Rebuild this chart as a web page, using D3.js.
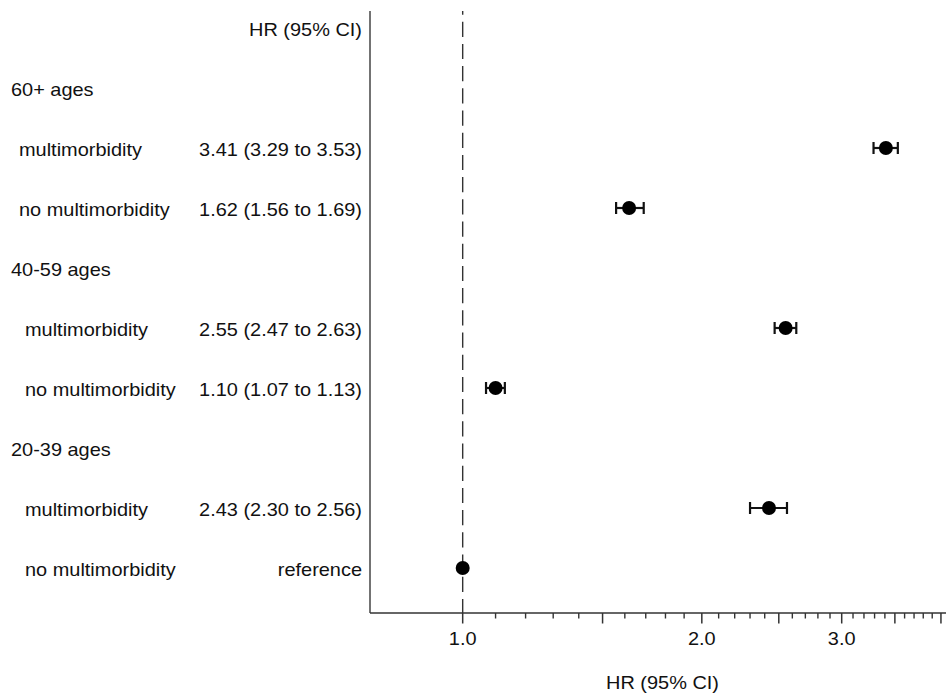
<!DOCTYPE html>
<html>
<head>
<meta charset="utf-8">
<script src="https://cdn.jsdelivr.net/npm/d3@7"></script>
<style>
  html, body { margin: 0; padding: 0; background: #fff; }
  svg { display: block; }
  text { font-family: "Liberation Sans", Arial, Helvetica, sans-serif; font-size: 17.5px; fill: #111; }
</style>
</head>
<body>
<svg id="chart" width="946" height="694"></svg>
<script>
// ---- data ----
const groups = ["60+ ages", "40-59 ages", "20-39 ages"];
const subgroups = ["multimorbidity", "no multimorbidity"];
const hr    = [[3.41, 1.62], [2.55, 1.10], [2.43, 1.00]];
const lower = [[3.29, 1.56], [2.47, 1.07], [2.30, null]];
const upper = [[3.53, 1.69], [2.63, 1.13], [2.56, null]];
const estLabels = [
  ["3.41 (3.29 to 3.53)", "1.62 (1.56 to 1.69)"],
  ["2.55 (2.47 to 2.63)", "1.10 (1.07 to 1.13)"],
  ["2.43 (2.30 to 2.56)", "reference"]
];
const columnHeader = "HR (95% CI)";
const axisTitle = "HR (95% CI)";
const refValue = 1.0;
const xDomain = [0.7644, 4.059];
const majorTicks = [1, 2, 3, 4];
const labelledTicks = [1, 2, 3];
const halfTicks = [1.5, 2.5, 3.5];
const minorTicks = [1.1,1.2,1.3,1.4,1.6,1.7,1.8,1.9,2.1,2.2,2.3,2.4,2.6,2.7,2.8,2.9,3.1,3.2,3.3,3.4,3.6,3.7,3.8,3.9];

// ---- layout ----
const svg = d3.select("#chart");
const plotLeft = 370, plotRight = 946, plotTop = 11, axisY = 613;
const SX = 1.14; // horizontal text stretch to match reference

// rows: 0 header, then group header + its subgroups
const rows = [{type: "header"}];
groups.forEach((g, gi) => {
  rows.push({type: "group", label: g, gi});
  subgroups.forEach((s, si) => {
    rows.push({type: "item", label: s, gi, si, hr: hr[gi][si], lo: lower[gi][si], hi: upper[gi][si], est: estLabels[gi][si]});
  });
});

const x = d3.scaleLog().domain(xDomain).range([plotLeft, plotRight]);
const y = d3.scalePoint().domain(d3.range(rows.length)).range([28, 568]);

function addText(g, tx, ty, str, anchor) {
  return g.append("text")
    .attr("transform", `translate(${tx},${ty}) scale(${SX},1)`)
    .attr("text-anchor", anchor || "start")
    .text(str);
}

const textG = svg.append("g");
const subIndent = [19, 25, 25];
rows.forEach((r, i) => {
  const by = y(i) + 7.5;
  if (r.type === "header") addText(textG, 362, by, columnHeader, "end");
  else if (r.type === "group") addText(textG, 11, by, r.label);
  else {
    addText(textG, subIndent[r.gi], by, r.label);
    addText(textG, 362, by, r.est, "end");
  }
});

// reference dashed line
svg.append("line")
  .attr("x1", x(refValue)).attr("x2", x(refValue))
  .attr("y1", plotTop).attr("y2", axisY)
  .attr("stroke", "#333").attr("stroke-width", 1.4)
  .attr("stroke-dasharray", "15.2,7")
  .attr("stroke-dashoffset", 11.5);

// left vertical line
svg.append("line")
  .attr("x1", plotLeft).attr("x2", plotLeft)
  .attr("y1", plotTop).attr("y2", axisY)
  .attr("stroke", "#444").attr("stroke-width", 1.5);

// x axis
const axisG = svg.append("g");
axisG.append("line")
  .attr("x1", plotLeft).attr("x2", plotRight)
  .attr("y1", axisY).attr("y2", axisY)
  .attr("stroke", "#333").attr("stroke-width", 1.5);
axisG.selectAll("line.minor").data(minorTicks).join("line")
  .attr("class", "minor")
  .attr("x1", d => x(d)).attr("x2", d => x(d))
  .attr("y1", axisY).attr("y2", axisY + 5.5)
  .attr("stroke", "#333").attr("stroke-width", 1.4);
axisG.selectAll("line.major").data(majorTicks.concat(halfTicks)).join("line")
  .attr("class", "major")
  .attr("x1", d => x(d)).attr("x2", d => x(d))
  .attr("y1", axisY).attr("y2", axisY + 10.5)
  .attr("stroke", "#333").attr("stroke-width", 1.5);
labelledTicks.forEach(t => addText(axisG, x(t), 644.5, d3.format(".1f")(t), "middle"));
addText(axisG, 662.5, 689, axisTitle, "middle");

// error bars and points
const items = rows.map((r, i) => Object.assign({i}, r)).filter(r => r.type === "item");
const markG = svg.append("g");
const withCI = items.filter(d => d.lo != null);
markG.selectAll("line.ci").data(withCI).join("line")
  .attr("x1", d => x(d.lo)).attr("x2", d => x(d.hi))
  .attr("y1", d => y(d.i)).attr("y2", d => y(d.i))
  .attr("stroke", "#111").attr("stroke-width", 2.2);
["lo", "hi"].forEach(k => {
  markG.selectAll("line.cap-" + k).data(withCI).join("line")
    .attr("class", "cap-" + k)
    .attr("x1", d => x(d[k])).attr("x2", d => x(d[k]))
    .attr("y1", d => y(d.i) - 6).attr("y2", d => y(d.i) + 6)
    .attr("stroke", "#111").attr("stroke-width", 2.2);
});
markG.selectAll("circle").data(items).join("circle")
  .attr("cx", d => x(d.hr)).attr("cy", d => y(d.i))
  .attr("r", 7).attr("fill", "#000");
</script>
</body>
</html>
